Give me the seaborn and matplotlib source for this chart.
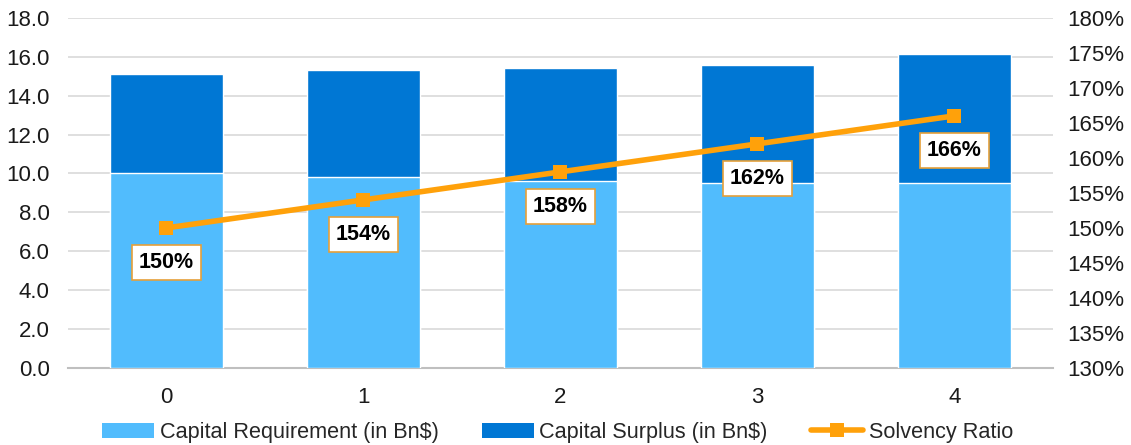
import matplotlib
matplotlib.use("Agg")
import matplotlib.pyplot as plt
import seaborn as sns
import pandas as pd
from matplotlib.patches import Patch
from matplotlib.lines import Line2D
from matplotlib.ticker import FuncFormatter, MultipleLocator

# Data
years = ["0", "1", "2", "3", "4"]
capital_requirement = [10.0, 9.82, 9.62, 9.50, 9.52]
capital_surplus = [5.12, 5.51, 5.81, 6.09, 6.63]
solvency_ratio = [150, 154, 158, 162, 166]

light_blue = "#51BCFD"
dark_blue = "#0077D4"
orange = "#FFA10A"

sns.set_theme(style="white")
plt.rcParams["font.family"] = ["Liberation Sans", "DejaVu Sans"]

df = pd.DataFrame({
    "year": years,
    "req": capital_requirement,
    "total": [r + s for r, s in zip(capital_requirement, capital_surplus)],
    "ratio": solvency_ratio,
})

fig = plt.figure(figsize=(11.31, 4.45), dpi=100)
ax = fig.add_axes([0.060, 0.173, 0.871, 0.787])

# Stacked bars: full height in dark blue, requirement drawn over it
sns.barplot(data=df, x="year", y="total", color=dark_blue, width=0.574,
            saturation=1, ax=ax, zorder=2)
sns.barplot(data=df, x="year", y="req", color=light_blue, width=0.574,
            saturation=1, ax=ax, zorder=3)

ax.set_ylim(0, 18)
ax.set_xlim(-0.5, len(years) - 0.5)
ax.yaxis.set_major_locator(MultipleLocator(2))
ax.yaxis.set_major_formatter(FuncFormatter(lambda v, p: f"{v:.1f}"))
ax.grid(axis="y", color="#D9D9D9", linewidth=1.2, zorder=0)
ax.set_axisbelow(True)
for s in ["top", "left", "right"]:
    ax.spines[s].set_visible(False)
ax.spines["bottom"].set_color("#BFBFBF")
ax.spines["bottom"].set_linewidth(1.5)
ax.set_xlabel("")
ax.set_ylabel("")
ax.tick_params(axis="both", labelsize=16, colors="#1a1a1a", length=0)
ax.tick_params(axis="x", pad=14)
ax.tick_params(axis="y", pad=13)

# Solvency ratio on the secondary axis
ax2 = ax.twinx()
sns.lineplot(x=list(range(len(years))), y=df["ratio"], color=orange,
             linewidth=4, marker="s", markersize=10, markeredgewidth=0,
             ax=ax2, zorder=5)
ax2.set_ylim(130, 180)
ax2.yaxis.set_major_locator(MultipleLocator(5))
ax2.yaxis.set_major_formatter(FuncFormatter(lambda v, p: f"{v:.0f}%"))
for s in ax2.spines.values():
    s.set_visible(False)
ax2.set_ylabel("")
ax2.tick_params(axis="y", labelsize=16, colors="#1a1a1a", length=0, pad=10)
ax2.grid(False)

for i, r in enumerate(solvency_ratio):
    ax2.annotate(f"{r}%", (i, r), xytext=(0, -25), textcoords="offset points",
                 ha="center", va="center", fontsize=15.5, fontweight="bold",
                 color="black",
                 bbox=dict(boxstyle="square,pad=0.32", facecolor="white",
                           edgecolor="#E5A03A", linewidth=1.2),
                 zorder=6)

handles = [
    Patch(facecolor=light_blue, edgecolor="none", label="Capital Requirement (in Bn$)"),
    Patch(facecolor=dark_blue, edgecolor="none", label="Capital Surplus (in Bn$)"),
    Line2D([0], [0], color=orange, linewidth=4, marker="s", markersize=10,
           markeredgewidth=0, label="Solvency Ratio"),
]
fig.legend(handles=handles, loc="center", bbox_to_anchor=(0.493, 0.028), ncol=3,
           frameon=False, fontsize=15.6, handlelength=2.4, handleheight=0.75,
           handletextpad=0.25, columnspacing=2.0)

fig.savefig("out.png", dpi=100)
